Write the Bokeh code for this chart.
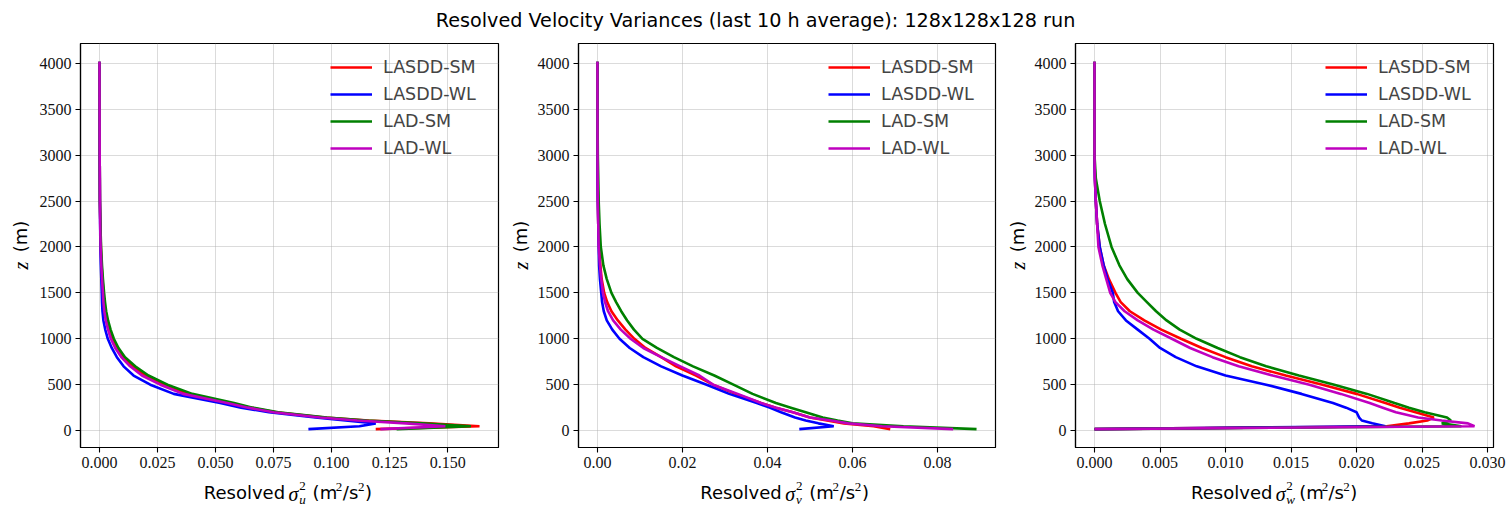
import math
from bokeh.plotting import figure
from bokeh.models import Range1d, FixedTicker, Legend, LegendItem, Div, NumeralTickFormatter
from bokeh.core.properties import value
from bokeh.layouts import row, column
from bokeh.embed import file_html
from bokeh.resources import INLINE

# Height levels (m)
z = [16, 47, 79, 110, 142, 200, 250, 300, 400, 500, 600, 700, 800, 900, 1000,
     1100, 1200, 1300, 1400, 1500, 1650, 1800, 2000, 2250, 2500, 2750, 3000, 3500, 4016]

series = ["LASDD-SM", "LASDD-WL", "LAD-SM", "LAD-WL"]
colors = ["#ff0000", "#0000ff", "#008000", "#bf00bf"]

# Resolved sigma_u^2 (m^2/s^2)
u_lasdd_sm = [0.119, 0.1637, 0.142, 0.116, 0.097, 0.076, 0.065, 0.056, 0.038, 0.0276, 0.0197, 0.0144, 0.0104, 0.0075, 0.0056,
              0.0042, 0.0032, 0.0025, 0.0020, 0.0017, 0.0013, 0.0009, 0.0006, 0.0004, 0.0002, 0.00015, 0.0001, 0.00005, 0.00002]
u_lasdd_wl = [0.090, 0.112, 0.119, 0.106, 0.093, 0.073, 0.061, 0.052, 0.032, 0.0219, 0.0147, 0.0104, 0.0075, 0.0053, 0.0036,
              0.0025, 0.0017, 0.0013, 0.0011, 0.0010, 0.0008, 0.0006, 0.0004, 0.0003, 0.0002, 0.00015, 0.0001, 0.00005, 0.00002]
u_lad_sm = [0.128, 0.160, 0.139, 0.115, 0.098, 0.077, 0.066, 0.058, 0.040, 0.0293, 0.0211, 0.0154, 0.0110, 0.0082, 0.0062,
            0.0048, 0.0037, 0.0029, 0.0024, 0.0020, 0.0015, 0.0011, 0.0007, 0.0004, 0.0002, 0.00015, 0.0001, 0.00005, 0.00002]
u_lad_wl = [0.121, 0.149, 0.132, 0.111, 0.095, 0.075, 0.064, 0.055, 0.036, 0.0262, 0.0183, 0.0132, 0.0094, 0.0068, 0.0049,
            0.0037, 0.0027, 0.0021, 0.0017, 0.0015, 0.0011, 0.0008, 0.0005, 0.0003, 0.0002, 0.00015, 0.0001, 0.00005, 0.00002]

# Resolved sigma_v^2 (m^2/s^2)
v_lasdd_sm = [0.0689, 0.065, 0.058, 0.054, 0.050, 0.0460, 0.0420, 0.0385, 0.0325, 0.0272, 0.0232, 0.0185, 0.0150, 0.0113, 0.0087,
              0.0066, 0.0048, 0.0033, 0.0023, 0.0016, 0.0010, 0.0007, 0.0004, 0.0002, 0.0001, 0.00005, 0.00003, 0.00002, 0.00001]
v_lasdd_wl = [0.0475, 0.0556, 0.052, 0.049, 0.0465, 0.0432, 0.0405, 0.0375, 0.0310, 0.0257, 0.0200, 0.0150, 0.0108, 0.0076, 0.0052,
              0.0035, 0.0022, 0.0015, 0.0011, 0.0009, 0.0006, 0.0004, 0.0003, 0.0002, 0.0001, 0.00005, 0.00003, 0.00002, 0.00001]
v_lad_sm = [0.0892, 0.072, 0.060, 0.0565, 0.053, 0.0490, 0.0455, 0.0420, 0.0365, 0.0320, 0.0275, 0.0225, 0.0180, 0.0140, 0.0106,
            0.0086, 0.0070, 0.0056, 0.0044, 0.0033, 0.0022, 0.0014, 0.0008, 0.0005, 0.0003, 0.0002, 0.0001, 0.00003, 0.00001]
v_lad_wl = [0.0837, 0.067, 0.059, 0.055, 0.050, 0.0460, 0.0420, 0.0385, 0.0330, 0.0272, 0.0240, 0.0195, 0.0150, 0.0108, 0.0078,
            0.0055, 0.0037, 0.0025, 0.0018, 0.0013, 0.0009, 0.0006, 0.0003, 0.0002, 0.0001, 0.00005, 0.00003, 0.00002, 0.00001]

# Resolved sigma_w^2 (m^2/s^2)
w_lasdd_sm = [0.0, 0.0223, 0.0240, 0.0254, 0.0259, 0.0245, 0.0233, 0.0222, 0.0200, 0.0174, 0.0146, 0.0120, 0.0100, 0.0082, 0.0066,
              0.0051, 0.0038, 0.0027, 0.0020, 0.0016, 0.0011, 0.0007, 0.0004, 0.0002, 0.0001, 0.00003, 0.0, 0.0, 0.0]
w_lasdd_wl = [0.0, 0.0222, 0.0212, 0.0204, 0.0202, 0.0200, 0.0192, 0.0182, 0.0158, 0.0131, 0.0100, 0.0078, 0.0062, 0.0050, 0.0042,
              0.0033, 0.0024, 0.0018, 0.0015, 0.0014, 0.0010, 0.0007, 0.0004, 0.0002, 0.0001, 0.00003, 0.0, 0.0, 0.0]
w_lad_sm = [0.0, 0.0280, 0.0265, 0.0272, 0.0269, 0.0252, 0.0240, 0.0229, 0.0208, 0.0183, 0.0156, 0.0131, 0.0111, 0.0094, 0.0078,
            0.0065, 0.0055, 0.0047, 0.0040, 0.0033, 0.0025, 0.0019, 0.0013, 0.0008, 0.0004, 0.0001, 0.0, 0.0, 0.0]
w_lad_wl = [0.0, 0.0290, 0.0285, 0.0265, 0.0247, 0.0230, 0.0220, 0.0210, 0.0188, 0.0164, 0.0136, 0.0110, 0.0090, 0.0073, 0.0059,
            0.0045, 0.0033, 0.0023, 0.0016, 0.0012, 0.0009, 0.0006, 0.0003, 0.0002, 0.0001, 0.00003, 0.0, 0.0, 0.0]

u_ticks = [0.0, 0.025, 0.05, 0.075, 0.1, 0.125, 0.15]
v_ticks = [0.0, 0.02, 0.04, 0.06, 0.08]
w_ticks = [0.0, 0.005, 0.01, 0.015, 0.02, 0.025, 0.03]
z_ticks = [0, 500, 1000, 1500, 2000, 2500, 3000, 3500, 4000]

TITLE = "Resolved Velocity Variances (last 10 h average): 128x128x128 run"

SANS = "DejaVu Sans"
SERIF = "Liberation Serif"
FRAME_H = 404
TOP = 13
BOTTOM = 30
XLAB_H = 34
YLAB_W = 30


def padded(lo, hi, frac=0.05):
    d = hi - lo
    return lo - frac * d, hi + frac * d


def blank(width, height):
    """A bare canvas whose data units are pixels, used for the axis captions."""
    f = figure(width=width, height=height, output_backend="svg", toolbar_location=None,
               x_range=Range1d(0, width), y_range=Range1d(0, height),
               x_axis_type=None, y_axis_type=None, min_border=0,
               min_border_left=0, min_border_right=0, min_border_top=0, min_border_bottom=0)
    f.outline_line_color = None
    f.xgrid.visible = False
    f.ygrid.visible = False
    f.background_fill_color = "white"
    f.border_fill_color = "white"
    return f


def make_panel(profiles, ticks, fmt, comp, left, right, width):
    allx = [v for prof in profiles for v in prof]
    x0, x1 = padded(min(allx), max(allx))
    y0, y1 = padded(min(z), max(z))
    main_w = width - YLAB_W
    p = figure(width=main_w, height=TOP + FRAME_H + BOTTOM, output_backend="svg",
               toolbar_location=None, x_range=Range1d(x0, x1), y_range=Range1d(y0, y1),
               min_border_left=left, min_border_right=right, min_border_top=TOP,
               min_border_bottom=BOTTOM)
    p.outline_line_color = "black"
    p.outline_line_width = 1.2
    p.background_fill_color = "white"
    p.border_fill_color = "white"

    for ax in (p.xaxis[0], p.yaxis[0]):
        ax.major_label_text_font = SERIF
        ax.major_label_text_font_size = "16px"
        ax.major_label_text_color = "#111111"
        ax.axis_line_color = "black"
        ax.axis_line_width = 1.2
        ax.major_tick_in = 0
        ax.major_tick_out = 5
        ax.major_tick_line_width = 1.1
        ax.minor_tick_line_color = None
        ax.major_label_standoff = 4
    p.xaxis[0].ticker = FixedTicker(ticks=ticks)
    p.xaxis[0].formatter = NumeralTickFormatter(format=fmt)
    p.yaxis[0].ticker = FixedTicker(ticks=z_ticks)
    p.yaxis[0].formatter = NumeralTickFormatter(format="0")

    for g in (p.xgrid[0], p.ygrid[0]):
        g.grid_line_color = "#b0b0b0"
        g.grid_line_alpha = 0.45
        g.grid_line_width = 1

    items = []
    for prof, name, col in zip(profiles, series, colors):
        r = p.line(prof, z, line_color=col, line_width=2.6)
        items.append(LegendItem(label=name, renderers=[r]))

    leg = Legend(items=items, location=(250, 289), orientation="vertical")
    leg.border_line_color = None
    leg.background_fill_alpha = 0
    leg.padding = 0
    leg.margin = 0
    leg.spacing = 7
    leg.glyph_width = 42
    leg.glyph_height = 20
    leg.label_height = 20
    leg.label_standoff = 11
    leg.label_text_font = SANS
    leg.label_text_font_size = "17.5px"
    p.add_layout(leg)

    # caption under the x axis: Resolved sigma_c^2 (m^2/s^2)
    xl = blank(main_w, XLAB_H)
    c = left + (main_w - left - right) / 2.0 - 25
    yc = 19
    common = dict(text_baseline="middle", text_color="black")
    sans = dict(text_font=value(SANS), text_font_size="18px", **common)
    sup = dict(text_font=value(SERIF), text_font_size="13px", **common)
    xl.text(x=[c - 4], y=[yc], text=["Resolved"], text_align="right", **sans)
    xl.text(x=[c], y=[yc - 1], text=["σ"], text_align="left", text_font=value(SERIF),
            text_font_style="italic", text_font_size="20px", **common)
    xl.text(x=[c + 12], y=[yc + 6.5], text=["2"], text_align="left", **sup)
    xl.text(x=[c + 12], y=[yc - 6.5], text=[comp], text_align="left", text_font_style="italic", **sup)
    xl.text(x=[c + 27], y=[yc], text=["(m"], text_align="left", **sans)
    xl.text(x=[c + 53], y=[yc + 6], text=["2"], text_align="left", **sup)
    xl.text(x=[c + 61], y=[yc], text=["/s"], text_align="left", **sans)
    xl.text(x=[c + 78], y=[yc + 6], text=["2"], text_align="left", **sup)
    xl.text(x=[c + 86], y=[yc], text=[")"], text_align="left", **sans)

    # caption beside the y axis: z (m)
    h = TOP + FRAME_H + BOTTOM + XLAB_H
    yl = blank(YLAB_W, h)
    mid = h - (TOP + FRAME_H / 2.0)
    yl.text(x=[20], y=[mid - 20], text=["z"], angle=math.pi / 2, text_align="center",
            text_font=value(SERIF), text_font_style="italic", text_font_size="20px", **common)
    yl.text(x=[20], y=[mid + 9], text=["(m)"], angle=math.pi / 2, text_align="center",
            text_font=value(SANS), text_font_size="18px", **common)

    return row(yl, column(p, xl, spacing=0), spacing=0)


panel_u = make_panel([u_lasdd_sm, u_lasdd_wl, u_lad_sm, u_lad_wl], u_ticks, "0.000", "u", 50, 2, 500)
panel_v = make_panel([v_lasdd_sm, v_lasdd_wl, v_lad_sm, v_lad_wl], v_ticks, "0.00", "v", 48, 2, 497)
panel_w = make_panel([w_lasdd_sm, w_lasdd_wl, w_lad_sm, w_lad_wl], w_ticks, "0.000", "w", 48, 18, 514)

title = Div(text=f'<div style="width:1511px;text-align:center;font-family:\'{SANS}\';font-size:19.2px;'
                 f'line-height:20px;padding-top:11px;color:black;">{TITLE}</div>',
            width=1511, height=30, margin=0)

layout = column(title, row(panel_u, panel_v, panel_w, spacing=0), spacing=0)

with open("out.html", "w", encoding="utf-8") as fh:
    fh.write(file_html(layout, INLINE))
